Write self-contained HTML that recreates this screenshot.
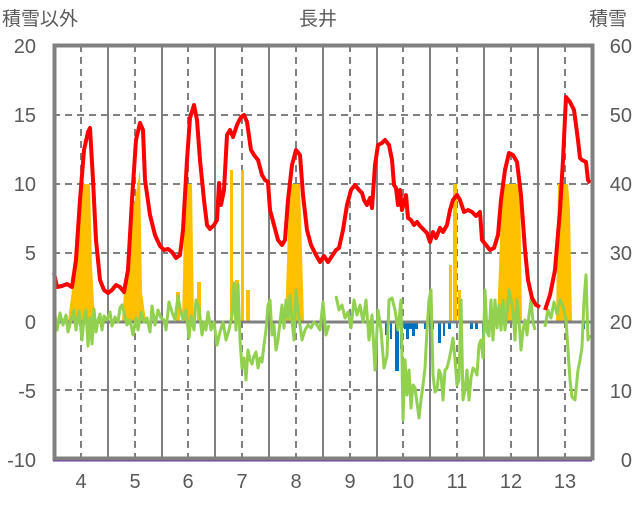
<!DOCTYPE html>
<html><head><meta charset="utf-8"><style>
body{margin:0;background:#fff;}
svg text{font-family:"Liberation Sans","Noto Sans CJK JP",sans-serif;fill:#595959;}
</style></head><body>
<svg width="636" height="501" viewBox="0 0 636 501" xmlns="http://www.w3.org/2000/svg">
<rect width="636" height="501" fill="#fff"/>
<g stroke="#808080" stroke-width="2" fill="none">
<line x1="108" y1="45" x2="108" y2="460"/><line x1="162" y1="45" x2="162" y2="460"/><line x1="215" y1="45" x2="215" y2="460"/><line x1="269" y1="45" x2="269" y2="460"/><line x1="323" y1="45" x2="323" y2="460"/><line x1="377" y1="45" x2="377" y2="460"/><line x1="430" y1="45" x2="430" y2="460"/><line x1="484" y1="45" x2="484" y2="460"/><line x1="538" y1="45" x2="538" y2="460"/>
</g>
<g stroke="#808080" stroke-width="2" stroke-dasharray="7,5" fill="none">
<line x1="81" y1="45" x2="81" y2="460"/><line x1="135" y1="45" x2="135" y2="460"/><line x1="188" y1="45" x2="188" y2="460"/><line x1="242" y1="45" x2="242" y2="460"/><line x1="296" y1="45" x2="296" y2="460"/><line x1="350" y1="45" x2="350" y2="460"/><line x1="403" y1="45" x2="403" y2="460"/><line x1="457" y1="45" x2="457" y2="460"/><line x1="511" y1="45" x2="511" y2="460"/><line x1="565" y1="45" x2="565" y2="460"/>
<line x1="53" y1="115" x2="592" y2="115"/><line x1="53" y1="184" x2="592" y2="184"/><line x1="53" y1="253" x2="592" y2="253"/><line x1="53" y1="390" x2="592" y2="390"/>
</g>
<!-- yellow snow bars -->
<g fill="#FFC000">
<polygon points="68,321 72,290 76,230 80,184 90,184 92,265 95,321"/>
<polygon points="122,321 124,292 130,250 134,205 140,170 142,292 146,321"/>
<rect x="176" y="292" width="4" height="29"/>
<polygon points="182,321 184,230 186,184 192,184 194,321"/>
<rect x="197" y="282" width="4" height="39"/>
<rect x="230" y="170" width="3" height="151"/><rect x="241" y="170" width="3" height="151"/><rect x="235" y="280" width="4" height="41"/><rect x="246" y="290" width="4" height="31"/>
<polygon points="285,321 288,230 290,184 300,184 304,321"/>
<rect x="449" y="265" width="3" height="56"/><rect x="453" y="184" width="4" height="137"/><rect x="458" y="290" width="3" height="31"/>
<polygon points="497,321 500,240 502,184 520,184 522,321"/>
<polygon points="556,321 558,184 568,184 570,210 572,321"/>
</g>
<!-- blue bars -->
<g fill="#0070C0">
<rect x="385" y="321" width="2" height="14"/><rect x="390" y="321" width="2" height="18"/><rect x="395" y="321" width="4" height="50"/><rect x="400" y="321" width="3" height="28"/><rect x="404" y="321" width="14" height="8"/><rect x="406" y="321" width="3" height="18"/><rect x="412" y="321" width="3" height="15"/><rect x="424" y="321" width="3" height="8"/><rect x="430" y="321" width="4" height="8"/><rect x="438" y="321" width="3" height="22"/><rect x="443" y="321" width="2" height="15"/><rect x="448" y="321" width="3" height="8"/><rect x="470" y="321" width="3" height="8"/><rect x="475" y="321" width="3" height="8"/><rect x="482" y="321" width="3" height="22"/><rect x="582" y="321" width="3" height="8"/>
</g>
<line x1="53" y1="322" x2="592" y2="322" stroke="#808080" stroke-width="3"/>
<!-- green -->
<polyline fill="none" stroke="#92D050" stroke-width="3" stroke-linejoin="round" points="54,307 57,330 60,313 63,325 66,315 68,332 71,320 74,310 76,330 79,311 82,340 84,318 86,310 88,346 90,318 92,344 94,309 96,332 98,320 100,314 102,330 104,316 107,320 110,312 112,326 115,317 118,322 120,308 122,305 124,313 127,325 130,320 133,335 136,318 138,330 141,312 144,322 147,318 150,332 152,306 155,325 158,310 161,318 164,320 166,330 169,302 172,312 175,320 178,296 180,308 183,320 186,310 189,338 191,316 194,330 196,300 199,308 202,335 204,322 206,330 208,312 211,330 214,322 217,345 220,332 223,322 226,340 229,330 232,315 234,283 236,330 238,284 240,340 242,368 244,358 246,380 248,350 250,360 252,364 254,356 256,352 258,368 260,358 262,362 264,345 266,330 268,305 270,300 272,335 274,325 276,350 278,340 280,322 282,305 284,328 286,300 288,318 290,296 292,320 294,340 296,290 298,310 300,325 302,340 305,330 308,325 311,328 314,322 317,325 320,330 323,302 326,335 329,325"/>
<polyline fill="none" stroke="#92D050" stroke-width="3" stroke-linejoin="round" points="336,296 339,310 342,305 345,318 348,312 351,328 354,300 357,315 360,305 363,322 366,300 369,340 372,315 375,370 378,310 381,330 384,368 387,356 389,300 392,298 395,310 398,330 401,300 403,420 405,360 407,395 409,370 411,408 413,385 415,388 417,403 419,418 421,400 423,385 425,368 427,330 429,300 431,290 433,375 435,392 437,390 439,370 441,375 443,400 445,370 447,368 449,360 451,350 453,338 455,360 457,385 459,380 461,300 463,400 465,390 467,370 469,400 471,378 473,368 475,370 477,375 479,345 481,340 483,358 485,290 487,332 489,336 491,300 493,340 495,300 497,328 499,305 501,330 503,300 505,330 507,313 509,290 511,300 513,310 515,340 517,300 519,320 521,350 523,330 525,320 527,335 529,315 531,300 533,322 535,330"/>
<polyline fill="none" stroke="#92D050" stroke-width="3" stroke-linejoin="round" points="545,327 548,310 551,318 554,302 557,314 560,300 563,306 566,320 568,350 570,380 572,397 575,400 578,370 580,360 582,347 584,300 586,275 588,340 590,335"/>
<!-- red -->
<polyline fill="none" stroke="#FF0000" stroke-width="4" stroke-linejoin="round" points="54,273 57,287 62,286 67,284 72,287 76,260 80,200 84,150 88,132 90,128 93,180 96,240 100,280 104,290 108,293 112,290 116,285 120,287 124,292 128,270 132,200 136,140 140,123 143,130 145,180 150,215 155,235 160,246 164,250 168,249 172,252 176,258 180,255 183,230 187,160 190,118 194,105 197,120 200,160 204,200 207,225 210,229 214,225 217,220 219,183 221,205 224,190 227,135 230,130 233,137 237,125 241,117 244,115 247,122 251,150 254,155 258,160 262,175 265,180 268,182 270,210 274,225 278,240 282,245 285,240 288,200 292,165 296,150 300,155 303,195 307,230 311,245 316,255 320,262 324,256 328,262 332,256 336,250 339,248 343,230 347,205 351,190 355,185 359,190 362,193 364,200 367,205 370,198 372,208 375,165 378,145 382,143 385,140 389,145 392,160 394,185 396,188 398,205 400,190 402,210 406,195 408,218 411,220 414,225 417,222 420,226 424,230 427,233 430,242 433,232 436,238 440,228 443,232 447,225 450,210 453,200 457,195 460,200 464,212 468,210 472,212 476,216 480,212 482,240 486,245 490,250 494,248 498,235 501,200 505,170 509,153 513,155 517,162 521,195 525,250 528,280 532,298 536,305 540,307"/>
<polyline fill="none" stroke="#FF0000" stroke-width="4" stroke-linejoin="round" points="545,310 550,295 555,270 560,210 563,160 566,97 570,102 574,110 576,125 578,140 580,158 582,160 586,162 588,180 590,183"/>
<line x1="53" y1="459.5" x2="592" y2="459.5" stroke="#7030A0" stroke-width="4"/>
<rect x="54.5" y="45.5" width="538" height="413" fill="none" stroke="#808080" stroke-width="4"/>
<g font-size="20" text-anchor="end">
<text x="36" y="53">20</text><text x="36" y="122">15</text><text x="36" y="191">10</text><text x="36" y="260">5</text><text x="36" y="329">0</text><text x="36" y="398">-5</text><text x="36" y="467">-10</text>
</g>
<g font-size="20" text-anchor="end">
<text x="632" y="53">60</text><text x="632" y="122">50</text><text x="632" y="191">40</text><text x="632" y="260">30</text><text x="632" y="329">20</text><text x="632" y="398">10</text><text x="632" y="467">0</text>
</g>
<g font-size="20" text-anchor="middle">
<text x="81" y="488">4</text><text x="135" y="488">5</text><text x="188" y="488">6</text><text x="242" y="488">7</text><text x="296" y="488">8</text><text x="350" y="488">9</text><text x="403" y="488">10</text><text x="457" y="488">11</text><text x="511" y="488">12</text><text x="565" y="488">13</text>
</g>
<text x="2" y="25" font-size="19">積雪以外</text>
<text x="318" y="25" font-size="19" text-anchor="middle">長井</text>
<text x="589" y="25" font-size="19">積雪</text>
</svg>
</body></html>
